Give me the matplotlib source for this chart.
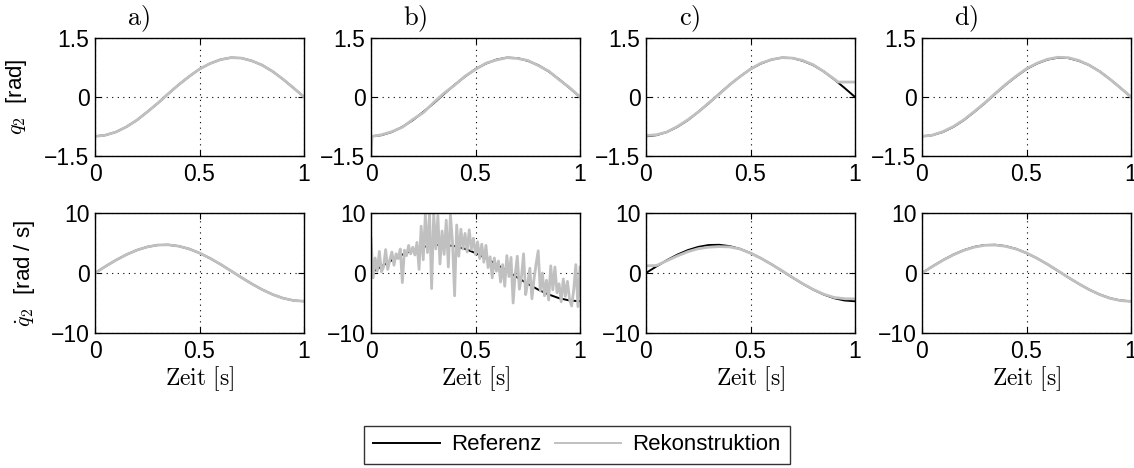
import numpy as np
import matplotlib.pyplot as plt
from matplotlib.lines import Line2D

plt.rcParams['font.family'] = 'Liberation Sans'
plt.rcParams['mathtext.fontset'] = 'cm'

# Referenztrajektorie (t = 0 ... 1 s, Schritt 0.05)
t_ref = [0.00, 0.05, 0.10, 0.15, 0.20, 0.25, 0.30, 0.35, 0.40, 0.45, 0.50,
         0.55, 0.60, 0.65, 0.70, 0.75, 0.80, 0.85, 0.90, 0.95, 1.00]
q_ref = [-1.00, -0.97, -0.89, -0.76, -0.59, -0.38, -0.16, 0.08, 0.31, 0.52, 0.71,
         0.85, 0.95, 1.00, 0.99, 0.92, 0.81, 0.65, 0.45, 0.23, 0.00]
qd_ref = [0.00, 1.10, 2.14, 3.06, 3.81, 4.35, 4.66, 4.70, 4.48, 4.02, 3.33,
          2.46, 1.46, 0.37, -0.74, -1.80, -2.77, -3.58, -4.20, -4.58, -4.71]

# a) Rekonstruktion
q_a = [-1.00, -0.97, -0.89, -0.76, -0.59, -0.38, -0.16, 0.08, 0.31, 0.52, 0.71,
       0.85, 0.95, 1.00, 0.99, 0.92, 0.81, 0.65, 0.45, 0.23, 0.00]
qd_a = [0.00, 1.10, 2.14, 3.06, 3.81, 4.35, 4.66, 4.70, 4.48, 4.02, 3.33,
        2.46, 1.46, 0.37, -0.74, -1.80, -2.77, -3.58, -4.20, -4.58, -4.71]

# b) Rekonstruktion (verrauscht)
t_bq = [0.00, 0.005, 0.05, 0.10, 0.15, 0.20, 0.25, 0.30, 0.35, 0.40, 0.45, 0.50,
        0.55, 0.60, 0.65, 0.70, 0.75, 0.80, 0.85, 0.90, 0.95, 1.00]
q_b = [-1.48, -1.00, -0.96, -0.88, -0.77, -0.57, -0.40, -0.14, 0.10, 0.30, 0.53, 0.70,
       0.86, 0.94, 1.00, 0.98, 0.93, 0.80, 0.66, 0.44, 0.24, 0.00]
t_bd = [i / 100 for i in range(101)]
qd_b = [5.8, -0.8, 2.5, 0.3, 3.6, 0.2, 1.0, 3.9, 0.6, 2.2,
        3.5, 1.3, 3.2, 2.4, 4.0, -1.6, 3.8, 2.9, 4.6, 3.2,
        4.3, 3.0, 5.1, 0.6, 7.8, 2.2, 9.8, 3.4, 9.9, -2.6,
        10.0, 4.0, 9.6, 1.5, 7.0, 3.1, 8.8, 1.0, 9.7, 5.2,
        -3.8, 8.0, 2.8, 7.3, 4.0, 6.6, 3.5, 7.2, 3.9, 5.8,
        3.1, 5.2, 2.4, 4.8, 1.8, 4.6, 0.9, 2.7, -0.8, 2.5,
        0.3, 2.0, -1.5, 1.4, -2.2, 2.9, -0.6, 2.6, -5.0, -0.2,
        2.8, -2.7, -0.6, 3.2, -3.6, -1.6, 0.8, -4.3, -1.0, 1.5,
        3.7, -3.0, 0.0, -3.8, -1.2, -4.5, 1.2, -2.8, 1.0, -3.3,
        -1.8, -4.8, -1.0, -3.9, -1.4, -4.4, -5.5, -2.8, 1.4, -5.6,
        1.0]

# c) Rekonstruktion
t_cq = [0.00, 0.05, 0.10, 0.15, 0.20, 0.25, 0.30, 0.35, 0.40, 0.45, 0.50,
        0.55, 0.60, 0.65, 0.70, 0.75, 0.80, 0.85, 0.90, 0.92, 1.00]
q_c = [-0.98, -0.96, -0.89, -0.75, -0.58, -0.38, -0.15, 0.07, 0.31, 0.52, 0.71,
       0.86, 0.95, 1.00, 0.99, 0.93, 0.82, 0.65, 0.46, 0.38, 0.38]
t_cd = [0.00, 0.05, 0.10, 0.15, 0.20, 0.25, 0.30, 0.35, 0.40, 0.45, 0.50,
        0.55, 0.60, 0.65, 0.70, 0.75, 0.80, 0.85, 0.90, 0.955, 1.00]
qd_c = [1.20, 1.25, 2.05, 2.85, 3.55, 4.05, 4.30, 4.40, 4.35, 4.00, 3.30,
        2.45, 1.45, 0.40, -0.72, -1.78, -2.74, -3.52, -4.08, -4.30, -4.30]

# d) Rekonstruktion
q_d = [-1.00, -0.97, -0.88, -0.75, -0.58, -0.37, -0.15, 0.09, 0.32, 0.53, 0.72,
       0.86, 0.96, 1.01, 1.00, 0.93, 0.81, 0.65, 0.45, 0.23, 0.00]
qd_d = [0.00, 1.08, 2.12, 3.03, 3.77, 4.31, 4.62, 4.66, 4.45, 4.00, 3.32,
        2.46, 1.47, 0.38, -0.73, -1.79, -2.77, -3.59, -4.22, -4.60, -4.74]

panels = ['a', 'b', 'c', 'd']
rec_q = [(t_ref, q_a), (t_bq, q_b), (t_cq, q_c), (t_ref, q_d)]
rec_qd = [(t_ref, qd_a), (t_bd, qd_b), (t_cd, qd_c), (t_ref, qd_d)]

W, H = 1134, 468
fig = plt.figure(figsize=(W / 100, H / 100), dpi=100)

lefts = [95, 371, 646, 922]
aw = 209
black = 'black'
grey = '#c0c0c0'


def style(ax, ylim, yticks):
    ax.set_xlim(0, 1)
    ax.set_ylim(*ylim)
    ax.set_xticks([0, 0.5, 1])
    ax.set_xticklabels(['0', '0.5', '1'])
    ax.set_yticks(yticks)
    ax.tick_params(direction='in', length=4, width=0.8, labelsize=16.5,
                   top=True, right=True)
    ax.tick_params(axis='x', pad=5)
    ax.tick_params(axis='y', pad=4)
    ax.grid(True, linestyle=(0, (1, 4)), color='black', linewidth=0.8)
    for s in ax.spines.values():
        s.set_linewidth(1.0)


for i in range(4):
    x0 = lefts[i] / W
    # obere Zeile: Position
    ax = fig.add_axes([x0, 1 - 156 / H, aw / W, 118 / H])
    ax.plot(t_ref, q_ref, color=black, lw=1.4)
    ax.plot(rec_q[i][0], rec_q[i][1], color=grey, lw=2.0)
    style(ax, (-1.5, 1.5), [-1.5, 0, 1.5])
    ax.set_yticklabels(['\u22121.5', '0', '1.5'])
    ax.text(0.21, 1.03, r'$\mathrm{' + panels[i] + r')}$', transform=ax.transAxes,
            ha='center', va='bottom', fontsize=19)
    if i == 0:
        ax.set_ylabel(r'$q_2$  [rad]', fontsize=16, labelpad=11)

    # untere Zeile: Geschwindigkeit
    ax = fig.add_axes([x0, 1 - 333 / H, aw / W, 120 / H])
    ax.plot(t_ref, qd_ref, color=black, lw=1.4)
    ax.plot(rec_qd[i][0], rec_qd[i][1], color=grey, lw=2.0)
    style(ax, (-10, 10), [-10, 0, 10])
    ax.set_yticklabels(['\u221210', '0', '10'])
    ax.set_xlabel(r'$\mathrm{Zeit\ [s]}$', fontsize=17, labelpad=1)
    if i == 0:
        ax.set_ylabel(r'$\dot{q}_2$  [rad / s]', fontsize=16, labelpad=10)

handles = [Line2D([], [], color=black, lw=1.4), Line2D([], [], color=grey, lw=1.4)]
leg = fig.legend(handles, ['Referenz', 'Rekonstruktion'], loc='center',
                 bbox_to_anchor=(577 / W, 1 - 445 / H), ncol=2, fontsize=16,
                 frameon=True, fancybox=False, edgecolor='black',
                 handlelength=3.0, handletextpad=0.5, columnspacing=0.6,
                 borderpad=0.4)
leg.get_frame().set_linewidth(1.0)

fig.savefig('out.png', dpi=100)
